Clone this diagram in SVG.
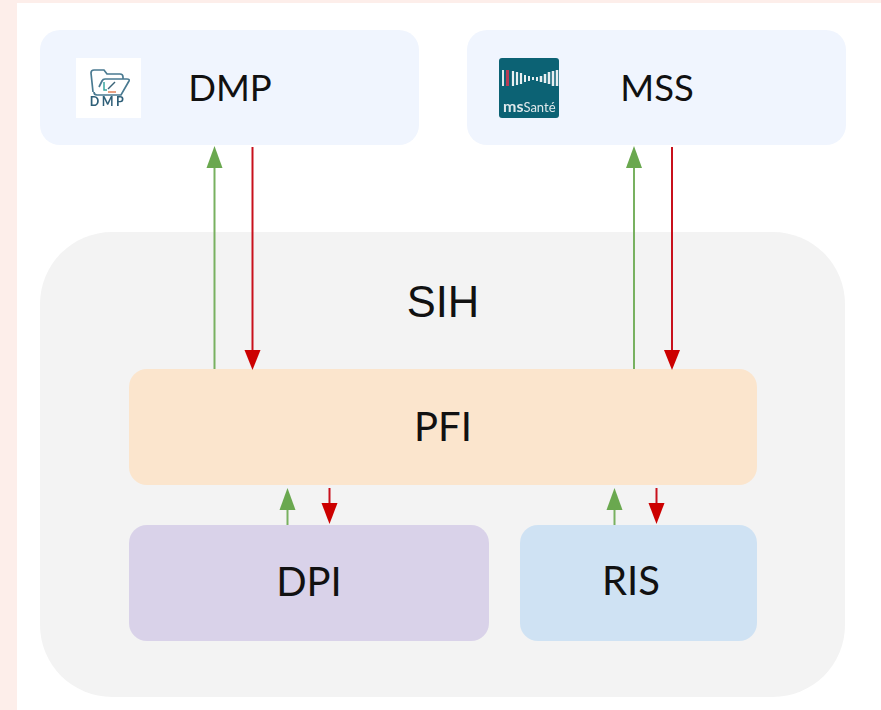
<svg xmlns="http://www.w3.org/2000/svg" width="881" height="710" viewBox="0 0 881 710">
<defs><filter id="soft" x="-5%" y="-5%" width="110%" height="110%"><feGaussianBlur stdDeviation="0.45"/></filter></defs>
<style>
.l{font-family:Lato,"Liberation Sans",sans-serif;font-size:36.500px;fill:#111;text-anchor:middle}
.b{font-size:40px}
.a{font-family:"Liberation Sans",Arial,sans-serif;font-size:43.500px;fill:#111;text-anchor:middle}
.g{stroke:#78b160;stroke-width:2;fill:none}
.r{stroke:#c8101c;stroke-width:2;fill:none}
.gh{fill:#6aa84f}
.rh{fill:#cc0000}
</style>
<rect width="881" height="710" fill="#fdeeea"/>
<rect x="17" y="3" width="864" height="707" fill="#fff"/>
<g id="sih"><rect x="40" y="232" width="805" height="465" rx="72" fill="#f3f3f3"/><text class="a" x="443" y="317">SIH</text></g>
<g id="dmp">
<rect x="40" y="30" width="379" height="115" rx="20" fill="#f0f5fe"/>
<rect x="76" y="58" width="65" height="60" fill="#fff"/>
<g filter="url(#soft)">
<path d="M93 92L91 73q0-3 3-3h10l3 4h13q3 0 3 3v2M97 95q-3 0-3-3M94 92q0 3 3 3h24l8-14q1-2-2-2h-22q-2 0-3 2l-3 6" fill="none" stroke="#4a7a91" stroke-width="1.700"/>
<path d="M104 82v8h3" stroke="#3aa6a0" stroke-width="1.500" fill="none"/><path d="M115 82l-7 7" stroke="#3b6478" stroke-width="1.500"/><path d="M108 92h8" stroke="#e0825a" stroke-width="1.500"/>
<text x="108" y="106" font-family="Lato,sans-serif" font-weight="700" font-size="12.500" letter-spacing="2.500" fill="#2f5f78" text-anchor="middle">DMP</text>
</g>
<text class="l" x="230" y="101">DMP</text>
</g>
<g id="mss">
<rect x="467" y="30" width="379" height="115" rx="20" fill="#f0f5fe"/>
<rect x="499" y="58" width="60" height="60" rx="3" fill="#0c6274"/>
<g filter="url(#soft)">
<path d="M503 70v16" stroke="#dfe8eb" stroke-width="2"/>
<path d="M507.500 70v16" stroke="#b73a55" stroke-width="3"/>
<path d="M513 71v15M517 72v13M521 73v11" stroke="#e8eff1" stroke-width="2.200"/>
<path d="M525 75v7M529 76v5M533 77v3M537 77v4" stroke="#e8eff1" stroke-width="2"/>
<path d="M541 76v6M545 74v9M549 72v12M553 71v15M557 70v16" stroke="#e8eff1" stroke-width="2.500"/>
<text x="503" y="112" font-family="Lato,sans-serif" font-size="13" fill="#dfe8eb"><tspan font-weight="700" font-size="16">ms</tspan>Santé</text>
</g>
<text class="l" x="657" y="101">MSS</text>
</g>
<g id="pfi"><rect x="129" y="369" width="628" height="116" rx="18" fill="#fbe5cd"/><text class="l b" x="443" y="441">PFI</text></g>
<g id="dpi"><rect x="129" y="525" width="360" height="116" rx="18" fill="#d9d2e9"/><text class="l b" x="309" y="596">DPI</text></g>
<g id="ris"><rect x="520" y="525" width="237" height="116" rx="18" fill="#cfe2f3"/><text class="l b" x="631" y="595">RIS</text></g>
<g id="connectors">
<path class="g" d="M214.500 369V165"/><path class="gh" d="M214.500 146l8 22h-16z"/>
<path class="r" d="M252.500 147V351"/><path class="rh" d="M252.500 370l-8-20h16z"/>
<path class="g" d="M634 369V165"/><path class="gh" d="M634 146l8 22h-16z"/>
<path class="r" d="M672 147V351"/><path class="rh" d="M672 370l-8-20h16z"/>
<path class="g" d="M287.500 525V507"/><path class="gh" d="M287.500 488l8 22h-16z"/>
<path class="r" d="M329.500 488V505"/><path class="rh" d="M329.500 524l-8-21h16z"/>
<path class="g" d="M614.500 525V507"/><path class="gh" d="M614.500 488l8 22h-16z"/>
<path class="r" d="M656.500 488V505"/><path class="rh" d="M656.500 524l-8-21h16z"/>
</g>
</svg>
